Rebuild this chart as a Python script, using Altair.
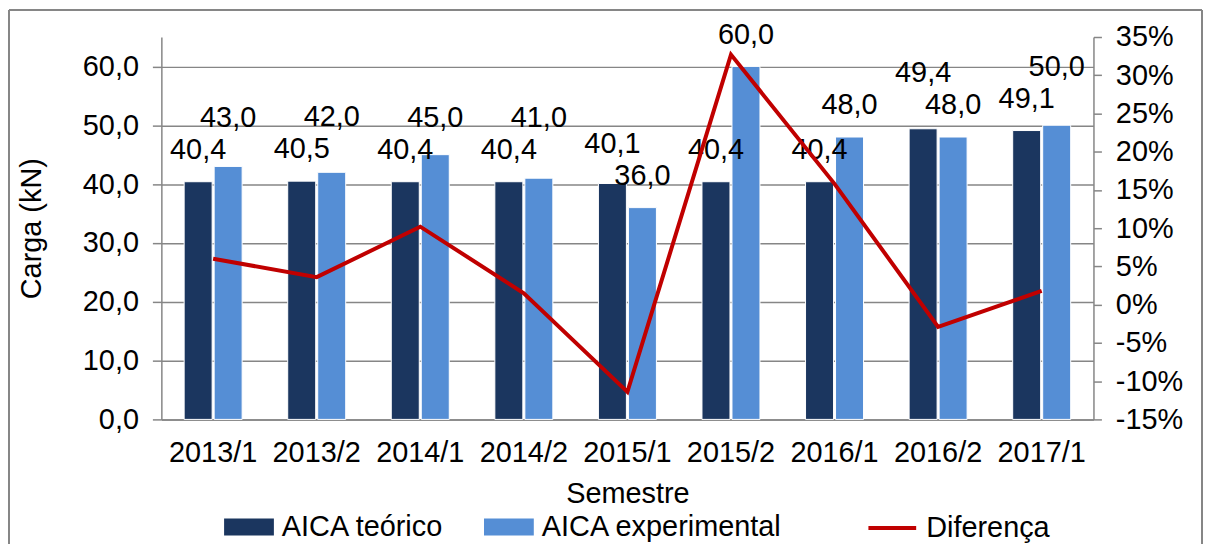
import altair as alt
import pandas as pd

semestres = ["2013/1", "2013/2", "2014/1", "2014/2", "2015/1", "2015/2", "2016/1", "2016/2", "2017/1"]
teorico = [40.4, 40.5, 40.4, 40.4, 40.1, 40.4, 40.4, 49.4, 49.1]
experimental = [43.0, 42.0, 45.0, 41.0, 36.0, 60.0, 48.0, 48.0, 50.0]
diferenca = [0.060, 0.036, 0.102, 0.015, -0.114, 0.327, 0.158, -0.029, 0.018]
series = ["AICA teórico", "AICA experimental"]
bar_colors = ["#1B365F", "#558ED5"]
line_name = "Diferença"
line_color = "#C00000"
left_ticks = [0, 10, 20, 30, 40, 50, 60]
right_ticks = [-0.15, -0.10, -0.05, 0.0, 0.05, 0.10, 0.15, 0.20, 0.25, 0.30, 0.35]

rows = []
for s, t, e in zip(semestres, teorico, experimental):
    rows.append({"Semestre": s, "Série": series[0], "Valor": t, "Outro": e})
    rows.append({"Semestre": s, "Série": series[1], "Valor": e, "Outro": t})
bars_df = pd.DataFrame(rows)
line_df = pd.DataFrame({"Semestre": semestres, "Diferença": diferenca, "Série": [line_name] * len(semestres)})

FONT = "Liberation Sans"
FS = 29
GRAY = "#868686"

x_enc = alt.X(
    "Semestre:N", sort=semestres,
    scale=alt.Scale(paddingInner=0.44, paddingOuter=0.22),
    axis=alt.Axis(title="Semestre", labelAngle=0, ticks=False, labelPadding=19, titlePadding=12,
                  domainColor=GRAY, domainWidth=1.5),
)
xo_enc = alt.XOffset("Série:N", sort=series, scale=alt.Scale(paddingInner=0.067))
y_enc = alt.Y(
    "Valor:Q",
    scale=alt.Scale(domain=[0, 65], nice=False, zero=True),
    axis=alt.Axis(title="Carga (kN)", values=left_ticks,
                  labelExpr="replace(format(datum.value, '.1f'), '.', ',')",
                  grid=True, gridColor=GRAY, gridWidth=1.5, tickSize=9, tickColor=GRAY, tickWidth=1.5,
                  domainColor=GRAY, domainWidth=1.5, labelPadding=14, titlePadding=36),
)

bars = alt.Chart(bars_df).mark_bar(stroke="white", strokeWidth=1).encode(
    x=x_enc, xOffset=xo_enc, y=y_enc,
    color=alt.Color("Série:N", sort=series,
                    scale=alt.Scale(domain=series, range=bar_colors),
                    legend=alt.Legend(title=None, orient="none", direction="horizontal",
                                      legendX=63, legendY=467, padding=0, labelLimit=0,
                                      symbolType="M-1,-0.34H1V0.34H-1Z", symbolSize=2500,
                                      symbolStrokeWidth=0, labelOffset=8, columnPadding=40)),
)
# label anchor: the higher bar of a pair gets its label lifted above the other label
labels = alt.Chart(bars_df).transform_calculate(
    rot="replace(format(datum.Valor, '.1f'), '.', ',')",
    ly="datum.Valor >= datum.Outro ? max(datum.Valor, datum.Outro + 5.4) : datum.Valor",
).mark_text(baseline="bottom", dy=-17, fontSize=FS, font=FONT, color="black").encode(
    x=alt.X("Semestre:N", sort=semestres),
    xOffset=alt.XOffset("Série:N", sort=series),
    y=alt.Y("ly:Q"),
    text="rot:N",
)

# chart-area frame (left, top, right edges)
frame_df = pd.DataFrame({"k": [0]})
frame_left = alt.Chart(frame_df).mark_rule(color=GRAY, strokeWidth=2).encode(
    x=alt.value(-153), y=alt.value(-27), y2=alt.value(509))
frame_top = alt.Chart(frame_df).mark_rule(color=GRAY, strokeWidth=2).encode(
    x=alt.value(-153), x2=alt.value(1045), y=alt.value(-27))
frame_right = alt.Chart(frame_df).mark_rule(color=GRAY, strokeWidth=2).encode(
    x=alt.value(1045), y=alt.value(-27), y2=alt.value(509))

bar_layer = alt.layer(bars, labels, frame_left, frame_top, frame_right)

line = alt.Chart(line_df).mark_line(strokeWidth=4).encode(
    x=alt.X("Semestre:N", sort=semestres),
    y=alt.Y("Diferença:Q",
            scale=alt.Scale(domain=[-0.15, 0.35], nice=False, zero=False),
            axis=alt.Axis(orient="right", title=None, values=right_ticks, grid=False,
                          labelExpr="(datum.value < 0 ? '-' : '') + format(abs(datum.value) * 100, '.0f') + '%'",
                          tickSize=8, tickColor=GRAY, tickWidth=1.5, domainColor=GRAY, domainWidth=1.5,
                          labelPadding=14)),
    stroke=alt.Stroke("Série:N", scale=alt.Scale(domain=[line_name], range=[line_color]),
                      legend=alt.Legend(title=None, orient="none", legendX=708, legendY=467, padding=0,
                                        symbolType="stroke", symbolSize=2300, symbolStrokeWidth=4,
                                        labelOffset=8, labelLimit=0)),
)

chart = alt.layer(bar_layer, line).resolve_scale(y="independent").properties(
    width=936, height=384, padding={"left": 0, "top": 0, "right": 0, "bottom": 0}
).configure_axis(
    labelFont=FONT, titleFont=FONT, labelFontSize=FS, titleFontSize=FS,
    labelColor="black", titleColor="black", titleFontWeight="normal",
).configure_legend(
    labelFont=FONT, labelFontSize=FS, labelColor="black",
).configure_view(stroke=None)

chart.save("out.html", embed_options={"renderer": "svg", "actions": False})
